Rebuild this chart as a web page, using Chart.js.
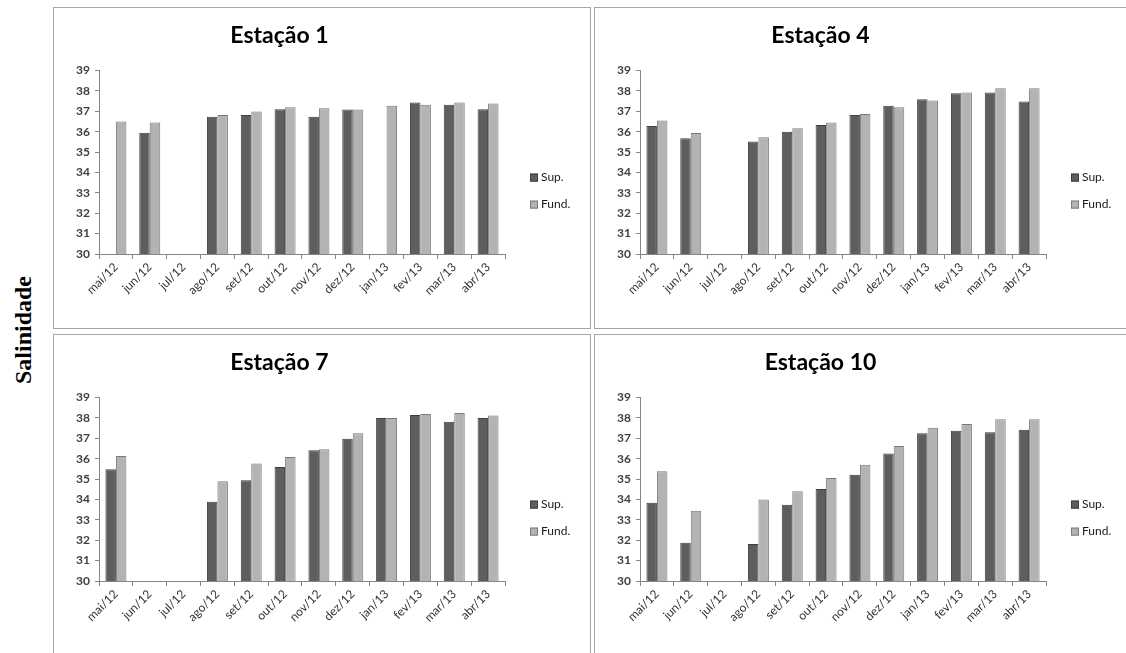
<!DOCTYPE html>
<html>
<head>
<meta charset="utf-8">
<script src="https://cdn.jsdelivr.net/npm/chart.js@4"></script>
<style>
  body { margin: 0; background: #fff; width: 1126px; height: 653px; overflow: hidden; position: relative; }
  .panel { position: absolute; width: 538px; height: 322px; border: 1px solid #a6a6a6; box-sizing: border-box; background: #fff; }
  .panel canvas { position: absolute; left: 0; top: 0; }
  #ylabel { position: absolute; left: 23px; top: 330px; transform: translate(-50%, -50%) rotate(-90deg);
    font: bold 24px "Liberation Serif", "DejaVu Serif", serif; color: #000; white-space: nowrap; }
</style>
</head>
<body>
<div id="ylabel">Salinidade</div>
<div class="panel" style="left:53px;top:7px"><canvas id="c1"></canvas></div>
<div class="panel" style="left:594px;top:7px"><canvas id="c4"></canvas></div>
<div class="panel" style="left:53px;top:334px"><canvas id="c7"></canvas></div>
<div class="panel" style="left:594px;top:334px"><canvas id="c10"></canvas></div>
<script>
const months = ["mai/12", "jun/12", "jul/12", "ago/12", "set/12", "out/12", "nov/12", "dez/12", "jan/13", "fev/13", "mar/13", "abr/13"];
const yTicks = [30, 31, 32, 33, 34, 35, 36, 37, 38, 39];

const est1Sup  = [null, 35.95, null, 36.73, 36.82, 37.10, 36.73, 37.09, null, 37.43, 37.32, 37.10];
const est1Fund = [36.50, 36.45, null, 36.82, 36.99, 37.20, 37.15, 37.09, 37.27, 37.32, 37.43, 37.38];

const est4Sup  = [36.28, 35.68, null, 35.52, 36.00, 36.33, 36.82, 37.27, 37.59, 37.89, 37.92, 37.48];
const est4Fund = [36.55, 35.94, null, 35.73, 36.17, 36.45, 36.87, 37.20, 37.53, 37.92, 38.13, 38.13];

const est7Sup  = [35.49, null, null, 33.89, 34.95, 35.60, 36.42, 36.98, 38.00, 38.14, 37.81, 38.00];
const est7Fund = [36.13, null, null, 34.89, 35.77, 36.08, 36.47, 37.25, 38.00, 38.19, 38.24, 38.12];

const est10Sup  = [33.84, 31.88, null, 31.81, 33.74, 34.51, 35.21, 36.26, 37.25, 37.37, 37.30, 37.42];
const est10Fund = [35.38, 33.45, null, 34.00, 34.40, 35.05, 35.70, 36.63, 37.52, 37.70, 37.94, 37.94];

const FONT = "Lato, 'Open Sans', sans-serif";

// legend drawn to the right of the plot, like the Excel original
const sideLegend = {
  id: "sideLegend",
  afterDraw(chart) {
    const ctx = chart.ctx;
    const a = chart.chartArea;
    ctx.save();
    chart.data.datasets.forEach((ds, i) => {
      const x = a.right + 25;
      const y = a.top + 107 + i * 27;
      ctx.fillStyle = ds.backgroundColor;
      ctx.strokeStyle = ds.borderColor;
      ctx.lineWidth = 1;
      ctx.fillRect(x, y - 4, 8, 8);
      ctx.strokeRect(x + 0.5, y - 3.5, 7, 7);
      ctx.fillStyle = "#1a1a1a";
      ctx.font = "12px " + FONT;
      ctx.textBaseline = "middle";
      ctx.fillText(ds.label, x + 11, y);
    });
    ctx.restore();
  }
};

function makeChart(id, title, sup, fund) {
  new Chart(document.getElementById(id), {
    type: "bar",
    data: {
      labels: months,
      datasets: [
        { label: "Sup.", data: sup, backgroundColor: "#5e5e5e", borderColor: "#3f3f3f", borderWidth: 1 },
        { label: "Fund.", data: fund, backgroundColor: "#b3b3b3", borderColor: "#7a7a7a", borderWidth: 1 }
      ]
    },
    options: {
      responsive: true,
      maintainAspectRatio: false,
      animation: false,
      categoryPercentage: 0.62,
      barPercentage: 1.0,
      layout: { padding: { left: 0, right: 85, top: 0, bottom: 0 } },
      plugins: {
        legend: { display: false },
        tooltip: { enabled: false },
        title: {
          display: true,
          text: title,
          color: "#000",
          font: { family: FONT, size: 23, weight: "bold" },
          padding: { top: 14, bottom: 21 }
        }
      },
      scales: {
        x: {
          grid: { offset: true, drawOnChartArea: false, drawTicks: true, tickLength: 5, color: "#868686" },
          border: { display: true, color: "#868686" },
          ticks: {
            minRotation: 45, maxRotation: 45, autoSkip: false, padding: 1,
            color: "#333", font: { family: FONT, size: 12 }
          },
          afterFit(scale) { scale.height = 74; }
        },
        y: {
          min: yTicks[0],
          max: yTicks[yTicks.length - 1],
          afterBuildTicks(scale) { scale.ticks = yTicks.map(v => ({ value: v })); },
          grid: { drawOnChartArea: false, drawTicks: true, tickLength: 4, color: "#868686" },
          border: { display: true, color: "#868686" },
          ticks: { padding: 5, color: "#404040", font: { family: FONT, size: 12, weight: "bold" } },
          afterFit(scale) { scale.width = 45; }
        }
      }
    },
    plugins: [sideLegend]
  });
}

makeChart("c1", "Estação 1", est1Sup, est1Fund);
makeChart("c4", "Estação 4", est4Sup, est4Fund);
makeChart("c7", "Estação 7", est7Sup, est7Fund);
makeChart("c10", "Estação 10", est10Sup, est10Fund);
</script>
</body>
</html>
